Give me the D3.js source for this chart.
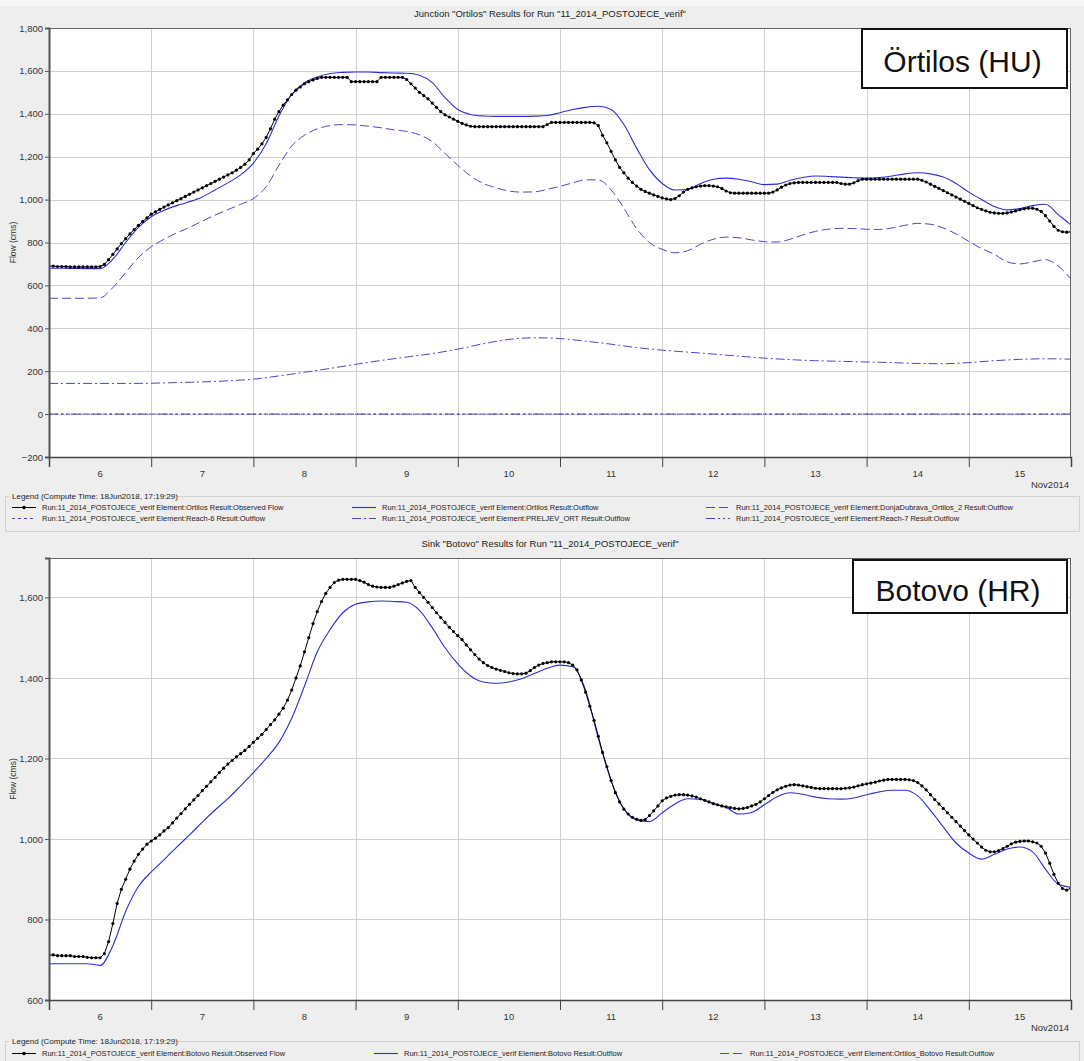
<!DOCTYPE html>
<html><head><meta charset="utf-8">
<script src="https://cdn.jsdelivr.net/npm/d3@7"></script>
<style>
body{margin:0;background:#eeeeee}
svg{display:block}
text{font-family:"Liberation Sans",Arial,sans-serif}
</style>
</head><body>
<svg id="c" width="1084" height="1061"></svg>
<script>
// ---------------- DATA ----------------
const dayLabels = ["6","7","8","9","10","11","12","13","14","15"];
const monthLabel = "Nov2014";
const topTitle = 'Junction "Ortilos" Results for Run "11_2014_POSTOJECE_verif"';
const botTitle = 'Sink "Botovo" Results for Run "11_2014_POSTOJECE_verif"';
const legendTitle = "Legend (Compute Time: 18Jun2018, 17:19:29)";
const topYTicks = [-200,0,200,400,600,800,1000,1200,1400,1600,1800];
const botYTicks = [600,800,1000,1200,1400,1600];
const yLabel = "Flow (cms)";

// Ortilos observed flow, hourly from 06Nov2014 00:00
const ortilosObserved = [
 690,690,688,688,688,686,686,686,686,686,686,686,688,698,720,745,770,795,818,840,860,880,898,915,
 932,943,954,965,975,985,995,1005,1015,1025,1035,1045,1055,1065,1075,1085,1095,1105,1115,1125,1137,1150,1165,1185,
 1215,1235,1260,1290,1330,1375,1410,1440,1465,1490,1510,1525,1540,1550,1558,1565,1570,1570,1570,1570,1570,1570,1570,1550,
 1550,1550,1550,1550,1550,1550,1570,1570,1570,1570,1570,1570,1560,1540,1520,1500,1485,1470,1450,1430,1410,1395,1385,1375,
 1365,1355,1348,1342,1340,1340,1340,1340,1340,1340,1340,1340,1340,1340,1340,1340,1340,1340,1340,1340,1340,1350,1360,1360,
 1360,1360,1360,1360,1360,1360,1360,1360,1358,1345,1300,1265,1225,1185,1150,1125,1100,1080,1063,1048,1038,1030,1022,1015,
 1008,1003,1000,1005,1018,1035,1048,1055,1060,1063,1065,1065,1063,1060,1052,1040,1032,1030,1030,1030,1030,1030,1030,1030,
 1030,1030,1035,1045,1058,1068,1075,1078,1080,1080,1080,1080,1080,1080,1080,1080,1080,1080,1075,1072,1072,1078,1088,1095,
 1095,1095,1095,1095,1095,1095,1095,1095,1095,1095,1095,1095,1095,1090,1082,1072,1062,1052,1042,1032,1022,1012,1002,992,
 982,972,962,954,947,941,938,936,936,938,942,947,953,957,960,960,955,945,925,900,875,857,850,848,850
];
// Ortilos outflow, 3-hourly
const ortilosOutflow = [
 680,680,679,678,678,722,800,870,920,950,
 972,990,1012,1045,1078,1115,1170,1260,1390,1490,
 1545,1572,1588,1593,1595,1595,1592,1590,1589,1580,
 1545,1475,1420,1397,1390,1388,1388,1388,1389,1392,
 1405,1420,1430,1435,1420,1350,1240,1140,1075,1045,
 1048,1075,1095,1100,1095,1083,1070,1072,1090,1103,
 1110,1108,1105,1102,1100,1103,1110,1120,1125,1120,
 1105,1075,1035,1000,968,952,958,972,978,930,882
];
// DonjaDubrava_Ortilos_2 outflow, 3-hourly
const donjaDubravaOutflow = [
 540,540,540,540,542,590,660,730,780,815,
 845,870,900,928,953,978,1005,1060,1160,1250,
 1300,1330,1345,1350,1348,1342,1335,1325,1318,1302,
 1270,1215,1160,1110,1075,1055,1040,1035,1036,1048,
 1062,1078,1092,1092,1045,960,865,800,768,752,
 762,792,815,825,822,812,804,802,815,835,
 852,862,866,865,862,861,868,880,889,885,
 868,840,805,772,745,710,700,710,720,690,630
];
// PRELJEV_ORT outflow, 6-hourly
const preljevOutflow = [
 143,143,143,143,144,147,150,155,163,178,
 195,213,232,250,266,282,303,328,348,356,
 352,340,326,310,298,289,280,270,261,254,
 249,246,243,240,236,235,240,249,255,258,256
];
// Reach-6 outflow, 6-hourly
const reach6Outflow = [
 0,0,0,0,0,0,0,0,0,0,0,0,0,0,0,0,0,0,0,0,0,0,0,0,0,0,0,0,0,0,0,0,0,0,0,0,0,0,0,0,0
];
// Reach-7 outflow, 6-hourly
const reach7Outflow = [
 0,0,0,0,0,0,0,0,0,0,0,0,0,0,0,0,0,0,0,0,0,0,0,0,0,0,0,0,0,0,0,0,0,0,0,0,0,0,0,0,0
];
// Botovo observed flow, hourly
const botovoObserved = [
 712,712,710,710,710,710,708,708,708,706,705,705,705,715,745,790,840,875,900,925,945,962,975,987,
 995,1002,1010,1020,1028,1040,1052,1063,1075,1086,1097,1108,1120,1131,1142,1153,1165,1176,1186,1195,1204,1212,1220,1230,
 1240,1250,1260,1272,1284,1296,1310,1325,1345,1370,1400,1430,1465,1500,1535,1565,1590,1610,1625,1637,1643,1645,1645,1645,
 1645,1642,1638,1632,1628,1626,1625,1625,1625,1628,1632,1636,1640,1642,1625,1612,1600,1588,1575,1562,1550,1538,1526,1515,
 1505,1495,1482,1470,1458,1447,1438,1431,1426,1422,1419,1416,1413,1411,1410,1410,1412,1418,1426,1432,1436,1438,1440,1440,
 1440,1440,1438,1432,1420,1395,1365,1330,1295,1255,1215,1180,1145,1115,1092,1074,1062,1054,1049,1046,1048,1058,1070,1082,
 1095,1102,1106,1109,1110,1110,1109,1107,1104,1100,1096,1092,1088,1085,1082,1080,1078,1076,1075,1076,1078,1082,1086,1092,
 1100,1108,1116,1122,1127,1131,1134,1135,1134,1132,1130,1128,1126,1125,1125,1125,1125,1125,1125,1126,1127,1129,1132,1135,
 1137,1139,1141,1144,1146,1148,1148,1148,1148,1148,1147,1145,1140,1132,1122,1110,1098,1087,1076,1065,1054,1043,1032,1021,
 1010,1000,990,980,972,968,968,971,976,982,988,992,994,995,995,993,990,982,965,940,912,890,877,873,878
];
// Botovo outflow, 3-hourly
const botovoOutflow = [
 690,690,690,690,686,735,820,882,918,948,
 980,1010,1042,1072,1100,1132,1165,1200,1240,1300,
 1380,1465,1520,1562,1583,1589,1591,1590,1588,1568,
 1525,1475,1435,1405,1390,1387,1390,1398,1411,1424,
 1432,1428,1370,1250,1145,1075,1047,1043,1065,1087,
 1100,1098,1088,1078,1062,1066,1085,1105,1115,1111,
 1104,1100,1099,1102,1110,1117,1121,1121,1107,1071,
 1030,990,965,950,962,975,980,968,925,888,880
];

const legendTop = [
 "Run:11_2014_POSTOJECE_verif Element:Ortilos Result:Observed Flow",
 "Run:11_2014_POSTOJECE_verif Element:Ortilos Result:Outflow",
 "Run:11_2014_POSTOJECE_verif Element:DonjaDubrava_Ortilos_2 Result:Outflow",
 "Run:11_2014_POSTOJECE_verif Element:Reach-6 Result:Outflow",
 "Run:11_2014_POSTOJECE_verif Element:PRELJEV_ORT Result:Outflow",
 "Run:11_2014_POSTOJECE_verif Element:Reach-7 Result:Outflow"
];
const legendBot = [
 "Run:11_2014_POSTOJECE_verif Element:Botovo Result:Observed Flow",
 "Run:11_2014_POSTOJECE_verif Element:Botovo Result:Outflow",
 "Run:11_2014_POSTOJECE_verif Element:Ortilos_Botovo Result:Outflow"
];

// ---------------- DRAWING ----------------
const svg = d3.select("#c");
const T0 = Date.UTC(2014, 10, 6);
const HOUR = 3600e3;
const L = 49, R = 1071;
const BLUE = "#2e2ed6", BLUE2 = "#4848cc";
const STY = {
  obs:   {color:"#000", dash:null, w:1, markers:true},
  sim:   {color:BLUE, dash:null, w:1.1},
  dash:  {color:BLUE2, dash:"9,4", w:1},
  dot:   {color:BLUE2, dash:"3,3", w:1},
  dd:    {color:BLUE2, dash:"9,3,2,3", w:1},
  ddd:   {color:BLUE2, dash:"9,3,2,3,2,3", w:1}
};

svg.append("rect").attr("x",0).attr("y",0).attr("width",1084).attr("height",1061).attr("fill","#eeeeee");
svg.append("rect").attr("x",0).attr("y",0).attr("width",1084).attr("height",6).attr("fill","#f7f7f7");

function drawChart(cfg){
  const g = svg.append("g");
  const x = d3.scaleUtc().domain([new Date(T0), new Date(T0 + 240*HOUR)]).range([L, R]);
  const y = d3.scaleLinear().domain(cfg.yDomain).range([cfg.bottom, cfg.top]);
  const id = "clip" + cfg.top;

  g.append("text").attr("x", 550).attr("y", cfg.top - 11).attr("text-anchor","middle")
    .attr("font-size", 9.5).attr("fill","#222").text(cfg.title);

  g.append("rect").attr("x",L).attr("y",cfg.top).attr("width",R-L).attr("height",cfg.bottom-cfg.top).attr("fill","#fff");
  svg.append("clipPath").attr("id", id).append("rect")
    .attr("x",L).attr("y",cfg.top).attr("width",R-L).attr("height",cfg.bottom-cfg.top);

  // grid
  const grid = g.append("g").attr("stroke","#cfcfcf").attr("stroke-width",1);
  cfg.yTicks.forEach(v => {
    const yy = Math.round(y(v)) + 0.5;
    grid.append("line").attr("x1",L).attr("x2",R).attr("y1",yy).attr("y2",yy);
  });
  const days = d3.utcDay.range(new Date(T0 + HOUR), new Date(T0 + 240*HOUR));
  days.forEach(d => {
    const xx = Math.round(x(d)) + 0.5;
    grid.append("line").attr("x1",xx).attr("x2",xx).attr("y1",cfg.top).attr("y2",cfg.bottom);
  });

  // series
  const sg = g.append("g").attr("clip-path", `url(#${id})`);
  cfg.series.forEach(s => {
    const st = STY[s.style];
    const pts = s.data.map((v,i) => [new Date(T0 + i*s.step*HOUR), v]);
    const line = d3.line().x(d => x(d[0])).y(d => y(d[1]))
      .curve(st.markers ? d3.curveLinear : d3.curveMonotoneX);
    sg.append("path").attr("d", line(pts)).attr("fill","none")
      .attr("stroke", st.color).attr("stroke-width", st.w)
      .attr("stroke-dasharray", st.dash);
    if (st.markers) {
      sg.append("g").selectAll("circle").data(pts).join("circle")
        .attr("cx", d => x(d[0])).attr("cy", d => y(d[1])).attr("r", 1.6).attr("fill","#000");
    }
  });

  // border
  g.append("rect").attr("x",L+0.5).attr("y",cfg.top+0.5).attr("width",R-L-1).attr("height",cfg.bottom-cfg.top)
    .attr("fill","none").attr("stroke","#666").attr("stroke-width",1);

  // axes
  const ya = g.append("g").attr("transform",`translate(${L},0)`)
    .call(d3.axisLeft(y).tickValues(cfg.yTicks).tickFormat(d3.format(",")).tickSize(4).tickPadding(2));
  ya.select(".domain").attr("stroke","#555").attr("stroke-width",2);
  ya.selectAll(".tick line").attr("stroke","#555");
  ya.selectAll(".tick text").attr("font-size",9.5).attr("fill","#333")
    .attr("font-family",'"Liberation Sans",Arial,sans-serif');

  const xa = g.append("g").attr("transform",`translate(0,${cfg.bottom})`)
    .call(d3.axisBottom(x).ticks(d3.utcDay.every(1)).tickFormat("").tickSizeInner(10).tickSizeOuter(10));
  xa.select(".domain").attr("stroke","#444").attr("stroke-width",1.5);
  xa.selectAll(".tick line").attr("stroke","#444");

  dayLabels.forEach((lab,i) => {
    g.append("text").attr("x", x(new Date(T0 + (i*24+12)*HOUR))).attr("y", cfg.bottom + 20)
      .attr("text-anchor","middle").attr("font-size",9.5).attr("fill","#333").text(lab);
  });
  g.append("text").attr("x", R - 2).attr("y", cfg.bottom + 31).attr("text-anchor","end")
    .attr("font-size",9.5).attr("fill","#333").text(monthLabel);

  g.append("text").attr("transform",`translate(16,${(cfg.top+cfg.bottom)/2}) rotate(-90)`)
    .attr("text-anchor","middle").attr("font-size",8.5).attr("fill","#333").text(yLabel);

  // annotation box
  const b = cfg.box;
  g.append("rect").attr("x",b.x).attr("y",b.y).attr("width",b.w).attr("height",b.h)
    .attr("fill","#fff").attr("stroke","#111").attr("stroke-width",2);
  g.append("text").attr("x", b.x + b.w/2 - 2).attr("y", b.base).attr("text-anchor","middle")
    .attr("font-size",30).attr("fill","#111").text(b.text);
}

function drawLegend(cfg){
  const g = svg.append("g");
  g.append("rect").attr("x",5.5).attr("y",cfg.y0+0.5).attr("width",1074).attr("height",cfg.h)
    .attr("fill","none").attr("stroke","#d2d2d2");
  g.append("rect").attr("x",9).attr("y",cfg.y0-5).attr("width",168).attr("height",10).attr("fill","#eeeeee");
  g.append("text").attr("x",12).attr("y",cfg.y0+3).attr("font-size",8).attr("fill","#222").text(legendTitle);
  cfg.items.forEach(it => {
    const st = STY[it.style];
    const yy = it.y + 0.5;
    g.append("line").attr("x1",it.x).attr("x2",it.x+24).attr("y1",yy).attr("y2",yy)
      .attr("stroke",st.color).attr("stroke-width",st.w).attr("stroke-dasharray",st.dash);
    if (st.markers) g.append("circle").attr("cx",it.x+12).attr("cy",yy).attr("r",1.8).attr("fill","#000");
    g.append("text").attr("x",it.x+30).attr("y",it.y+3).attr("font-size",7.5).attr("fill","#222").text(it.label);
  });
}

drawChart({
  top: 28, bottom: 457, yDomain: [-200, 1800], yTicks: topYTicks, title: topTitle,
  series: [
    {data: reach6Outflow, step: 6, style: "dot"},
    {data: reach7Outflow, step: 6, style: "ddd"},
    {data: preljevOutflow, step: 6, style: "dd"},
    {data: donjaDubravaOutflow, step: 3, style: "dash"},
    {data: ortilosOutflow, step: 3, style: "sim"},
    {data: ortilosObserved, step: 1, style: "obs"}
  ],
  box: {x: 862, y: 29, w: 205, h: 59, base: 72, text: "Örtilos (HU)"}
});
drawLegend({y0: 496, h: 35, items: [
  {x: 12, y: 507, style: "obs", label: legendTop[0]},
  {x: 352, y: 507, style: "sim", label: legendTop[1]},
  {x: 706, y: 507, style: "dash", label: legendTop[2]},
  {x: 12, y: 518, style: "dot", label: legendTop[3]},
  {x: 352, y: 518, style: "dd", label: legendTop[4]},
  {x: 706, y: 518, style: "ddd", label: legendTop[5]}
]});

drawChart({
  top: 558, bottom: 1000, yDomain: [600, 1698], yTicks: botYTicks, title: botTitle,
  series: [
    {data: botovoOutflow, step: 3, style: "sim"},
    {data: botovoObserved, step: 1, style: "obs"}
  ],
  box: {x: 853, y: 560, w: 214, h: 53, base: 601, text: "Botovo (HR)"}
});
drawLegend({y0: 1041, h: 22, items: [
  {x: 12, y: 1053, style: "obs", label: legendBot[0]},
  {x: 374, y: 1053, style: "sim", label: legendBot[1]},
  {x: 720, y: 1053, style: "dash", label: legendBot[2]}
]});
</script>
</body></html>
